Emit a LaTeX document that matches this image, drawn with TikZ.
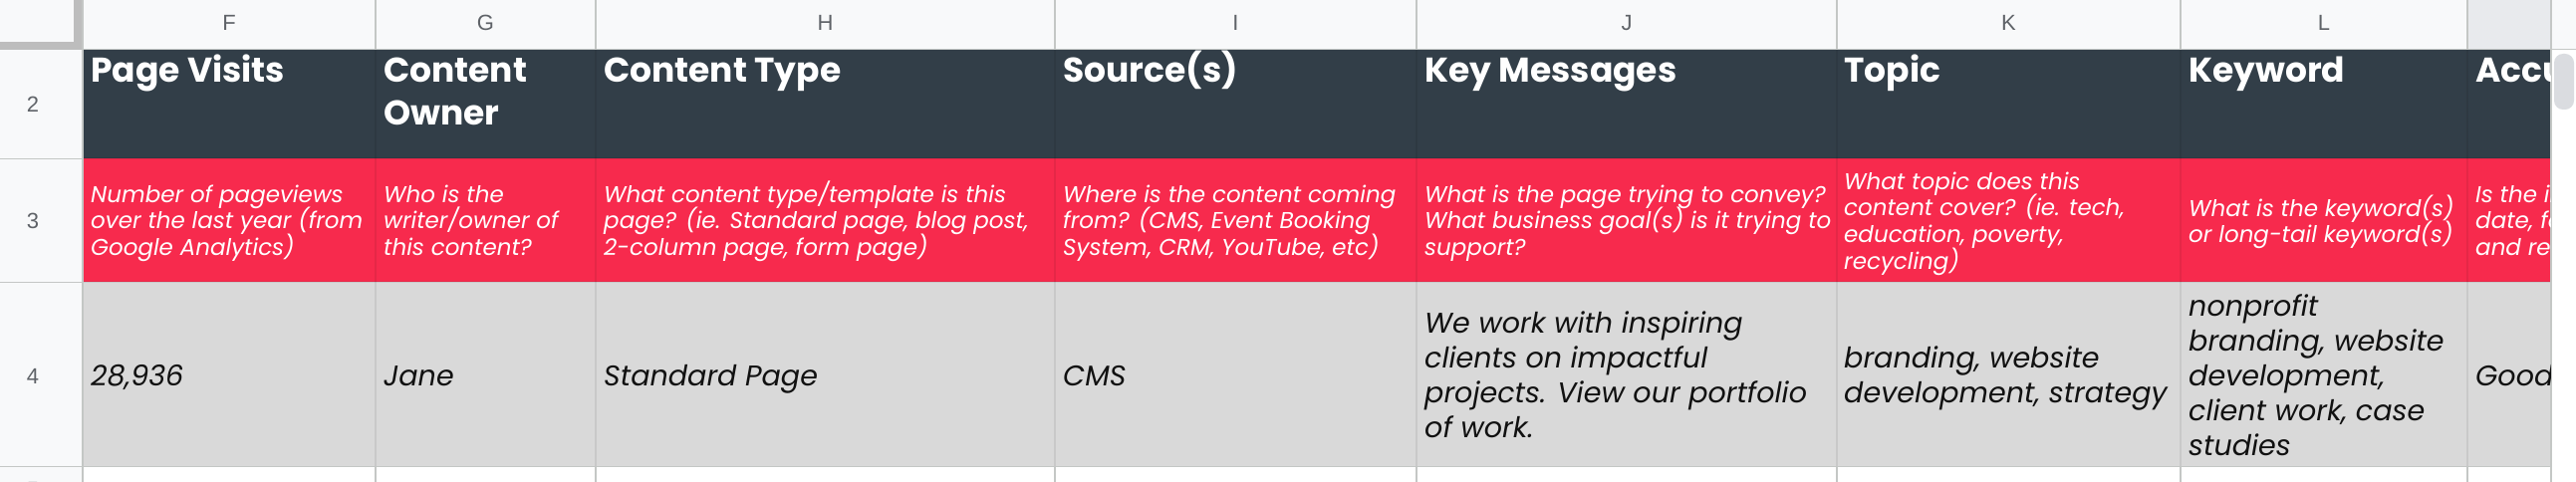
\documentclass[tikz,border=0pt]{standalone}
\usepackage{fontspec}
\setmainfont{Poppins}
\newfontfamily\uifont{Liberation Sans}
\definecolor{hbg}{HTML}{F8F9FA}
\definecolor{selbg}{HTML}{E8EAED}
\definecolor{darkhd}{HTML}{323E48}
\definecolor{redrow}{HTML}{F72A4D}
\definecolor{grayrow}{HTML}{D9D9D9}
\definecolor{gridc}{HTML}{C4C7C5}
\definecolor{frz}{HTML}{BDBDBD}
\definecolor{uitext}{HTML}{5F6368}
\definecolor{thumb}{HTML}{DADCE0}
\definecolor{celltext}{HTML}{111111}
\newcommand\cellt[6]{%
  \foreach \t [count=\i from 0] in {#6} {%
    \node[#1,anchor=base west] (#2-\i) at (#3,{#4+\i*#5}) {\t};}}
\begin{document}
\begin{tikzpicture}[x=1pt,y=-1pt,
  uilabel/.style={font=\uifont\fontsize{22}{26}\selectfont,text=uitext,inner sep=0pt,anchor=base},
  headtxt/.style={font=\fontsize{34.5}{40}\selectfont\bfseries,text=white,inner sep=0pt},
  desctxt/.style={font=\fontsize{23}{27}\selectfont\itshape,text=white,inner sep=0pt},
  celltxt/.style={font=\fontsize{28.6}{35}\selectfont\itshape,text=celltext,inner sep=0pt},
  gridline/.style={draw=gridc,line width=1.5pt},
  faintline/.style={draw=black,draw opacity=0.07,line width=1.5pt}]
\useasboundingbox (0,0) rectangle (2586,484);
\clip (0,0) rectangle (2586,484);
% backgrounds
\fill[white] (0,0) rectangle (2586,484);
\fill[hbg] (0,0) rectangle (2586,49);
\fill[selbg] (2477,0) rectangle (2561,49);
\fill[hbg] (0,49) rectangle (83,484);
\fill[darkhd] (83,49) rectangle (2561,159);
\fill[redrow] (83,159) rectangle (2561,283);
\fill[grayrow] (83,283) rectangle (2561,468);
% grid lines
\foreach \x in {377,598,1059,1422,1844,2189,2477} {
  \draw[faintline] (\x,49) -- (\x,468);
  \draw[gridline] (\x,0) -- (\x,49);
  \draw[gridline] (\x,468) -- (\x,484);
}
\draw[faintline] (83,159) -- (2561,159);
\draw[faintline] (83,283) -- (2561,283);
\draw[gridline] (0,468.5) -- (2561,468.5);
\draw[gridline] (0,159.5) -- (83,159.5);
\draw[gridline] (0,283.5) -- (83,283.5);
\draw[gridline] (0,49.5) -- (2586,49.5);
\draw[gridline] (83,0) -- (83,484);
\draw[gridline] (2561,0) -- (2561,484);
% frozen corner bars
\fill[frz] (74,0) rectangle (82,50);
\fill[frz] (0,42) rectangle (82,50);
% scrollbar thumb
\fill[thumb,rounded corners=9pt] (2564,54) rectangle (2584,110);
% column letters
\node[uilabel] (cF) at (230,31) {F};
\node[uilabel] (cG) at (487.5,31) {G};
\node[uilabel] (cH) at (828.5,31) {H};
\node[uilabel] (cI) at (1240.5,31) {I};
\node[uilabel] (cJ) at (1633,31) {J};
\node[uilabel] (cK) at (2016.5,31) {K};
\node[uilabel] (cL) at (2333,31) {L};
% row numbers
\node[uilabel] (r2) at (33,113) {2};
\node[uilabel] (r3) at (33,229.5) {3};
\node[uilabel] (r4) at (33,385) {4};
\node[uilabel] (r5) at (33,499.5) {5};
% header row
\cellt{headtxt}{hF}{91}{83}{43}{{Page Visits}}
\cellt{headtxt}{hG}{385}{83}{43}{{Content},{Owner}}
\cellt{headtxt}{hH}{606}{83}{43}{{Content Type}}
\cellt{headtxt}{hI}{1067}{83}{43}{{Source(s)}}
\cellt{headtxt}{hJ}{1430}{83}{43}{{Key Messages}}
\cellt{headtxt}{hK}{1851}{83}{43}{{Topic}}
\cellt{headtxt}{hL}{2197}{83}{43}{{Keyword}}
% description row
\cellt{desctxt}{dF}{91}{203}{26.7}{{Number of pageviews},{over the last year (from},{Google Analytics)}}
\cellt{desctxt}{dG}{385}{203}{26.7}{{Who is the},{writer/owner of},{this content?}}
\cellt{desctxt}{dH}{606}{203}{26.7}{{What content type/template is this},{page? (ie. Standard page, blog post,},{2-column page, form page)}}
\cellt{desctxt}{dI}{1067}{203}{26.7}{{Where is the content coming},{from? (CMS, Event Booking},{System, CRM, YouTube, etc)}}
\cellt{desctxt}{dJ}{1430}{203}{26.7}{{What is the page trying to convey?},{What business goal(s) is it trying to},{support?}}
\cellt{desctxt}{dK}{1851}{190}{26.7}{{What topic does this},{content cover? (ie. tech,},{education, poverty,},{recycling)}}
\cellt{desctxt}{dL}{2197}{217}{26.7}{{What is the keyword(s)},{or long-tail keyword(s)}}
% data row
\cellt{celltxt}{vF}{91}{387}{35}{{28,936}}
\cellt{celltxt}{vG}{385}{387}{35}{{Jane}}
\cellt{celltxt}{vH}{606}{387}{35}{{Standard Page}}
\cellt{celltxt}{vI}{1067}{387}{35}{{CMS}}
\cellt{celltxt}{vJ}{1430}{334.5}{35}{{We work with inspiring},{clients on impactful},{projects. View our portfolio},{of work.}}
\cellt{celltxt}{vK}{1851}{369.5}{35}{{branding, website},{development, strategy}}
\cellt{celltxt}{vL}{2197}{317}{35}{{nonprofit},{branding, website},{development,},{client work, case},{studies}}
% clipped column M
\begin{scope}
\clip (2477,49) rectangle (2560,468);
\cellt{headtxt}{hM}{2485}{83}{43}{{Accuracy}}
\cellt{desctxt}{dM}{2485}{203}{26.7}{{Is the information up to},{date, factual, accurate},{and relevant?}}
\cellt{celltxt}{vM}{2485}{387}{35}{{Good}}
\end{scope}
\end{tikzpicture}
\end{document}
